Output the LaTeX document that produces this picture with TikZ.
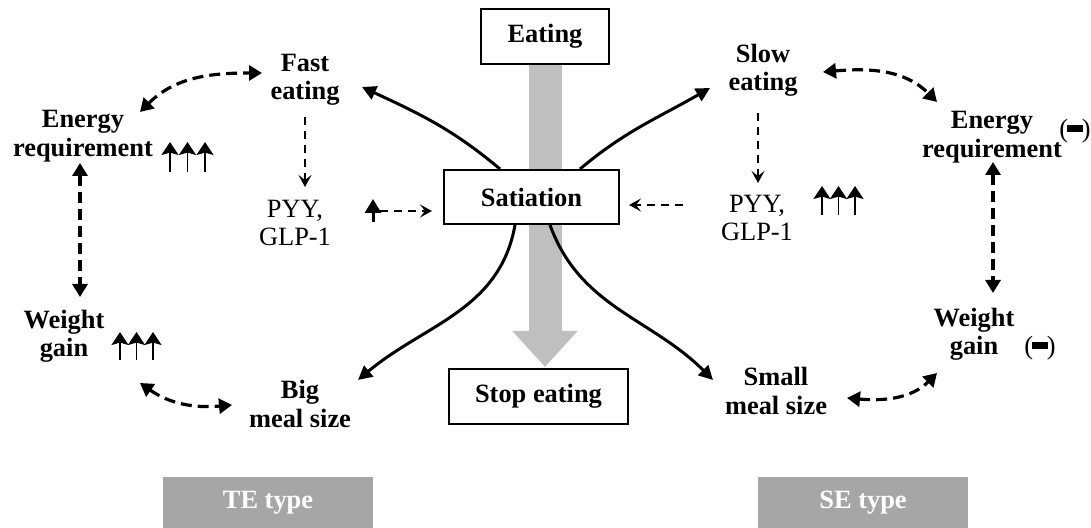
\documentclass[tikz,border=0pt]{standalone}
\usepackage{fontspec}
\setmainfont{Liberation Serif}
\usetikzlibrary{arrows.meta,calc}
\definecolor{typegray}{HTML}{A6A6A6}
\newcommand{\figfont}{\fontsize{13.2pt}{14.2pt}\selectfont}
\newcommand{\nochange}{(\kern-0.04em\rule[0.2em]{0.6em}{0.28em}\kern-0.04em)}
\tikzstyle{box} = [rectangle, draw=black, line width=1pt, fill=white, font=\figfont\bfseries, inner sep=0pt]
\tikzstyle{lbl} = [align=center, font=\figfont\bfseries, inner sep=1pt]
\tikzstyle{hormone} = [align=center, font=\figfont, inner sep=1pt]
\tikzstyle{typebox} = [rectangle, fill=typegray, text=white, font=\figfont\bfseries, minimum width=105pt, minimum height=25.5pt]
\tikzstyle{arrow} = [line width=1.5pt, -{Triangle[length=7pt,width=7pt]}]
\tikzstyle{link} = [line width=1.6pt, dash pattern=on 5.5pt off 3pt, {Triangle[length=6.5pt,width=7.5pt]}-{Triangle[length=6.5pt,width=7.5pt]}]
\tikzstyle{signal} = [line width=0.9pt, dash pattern=on 4pt off 3pt, -{Stealth[length=6pt,width=6.5pt,inset=2.5pt]}]
\tikzstyle{flow} = [line width=16.5pt, draw=black!25, -{Triangle[length=18pt,width=31.5pt]}]
\tikzstyle{up} = [line width=0.9pt, -{Stealth[length=6.5pt,width=8.5pt,inset=1.2pt]}]
\tikzset{pics/trip/.style args={#1/#2}{code={
  \foreach \i in {0,1,2} \draw[up] (\i*#1,0) -- (\i*#1,#2);
}}}

\begin{document}
\begin{tikzpicture}[x=0.5pt,y=0.5pt]
\useasboundingbox (0,0) rectangle (1091,528);
\node(eat)[box,minimum width=64pt,minimum height=27.5pt] at (545,491.5) {Eating};
\node(stop)[box,minimum width=89.5pt,minimum height=27.5pt] at (538.5,131.5) {Stop eating};
\draw[flow](eat.south)--([yshift=0.5pt]eat.south|-stop.north);
\node(sat)[box,minimum width=87.5pt,minimum height=27pt] at (531.5,331) {Satiation};

\node(fast)[lbl] at (305,448) {Fast\\eating};
\node(slow)[lbl] at (763,458) {Slow\\eating};
\node(enL)[lbl] at (83,392) {Energy\\requirement};
\node(enR)[lbl] at (992,391) {Energy\\requirement};
\node(wgL)[lbl] at (64,192) {Weight\\gain};
\node(wgR)[lbl] at (974,194) {Weight\\gain};
\node(big)[lbl] at (300,124) {Big\\meal size};
\node(small)[lbl] at (776,137) {Small\\meal size};
\node(pyyL)[hormone] at (295,305) {PYY,\\GLP-1};
\node(pyyR)[hormone] at (757,310) {PYY,\\GLP-1};
\node(negE)[hormone] at (1075,397) {\nochange};
\node(negW)[hormone] at (1040,180) {\nochange};
\node(te)[typebox] at (268,25.5) {TE type};
\node(se)[typebox] at (863,25.5) {SE type};

\pic at (170,356) {trip=17.5/30};
\pic at (120,168) {trip=16.5/28};
\pic at (822,313) {trip=16.5/29};
\coordinate(upL) at (373,317);
\coordinate(dnR) at (683,323);
\draw[line width=1.5pt,-{Triangle[length=7pt,width=8pt]}]($(upL)+(0,-11)$)--($(upL)+(0,12)$);

\draw[arrow]($(sat.north)+(-31.5,0)$) to[out=140,in=-25] ($(fast)+(57,-7)$);
\draw[arrow]($(sat.north)+(48.5,0)$) to[out=40,in=-150] ($(slow)+(-53,-18)$);
\draw[arrow]($(sat.south)+(-16.5,0)$) to[out=-100,in=40] ($(big)+(58,24)$);
\draw[arrow]($(sat.south)+(18.5,0)$) to[out=-70,in=135] ($(small)+(-63,11)$);

\draw[signal]($(fast)+(0,-37)$)--($(pyyL)+(10,36)$);
\draw[signal]($(slow)+(-5,-43)$)--($(pyyR)+(1,35)$);
\draw[signal,shorten <=3.5pt,shorten >=5.5pt](upL)--(upL-|sat.west);
\draw[signal,shorten >=4.5pt](dnR)--(dnR-|sat.east);

\draw[link]($(enL)+(57,24)$) to[out=45,in=180] ($(fast)+(-43,7)$);
\draw[link]($(enL)+(-3,-27)$)--($(wgL)+(16,39)$);
\draw[link]($(wgL)+(76,-47)$) to[out=-35,in=185] ($(big)+(-68,-1)$);
\draw[link]($(slow)+(60,-2)$) to[out=5,in=135] ($(enR)+(-55,35)$);
\draw[link]($(enR)+(1,-25)$)--($(wgR)+(19,41)$);
\draw[link]($(small)+(71,-7)$) to[out=-5,in=-135] ($(wgR)+(-37,-39)$);
\end{tikzpicture}
\end{document}
